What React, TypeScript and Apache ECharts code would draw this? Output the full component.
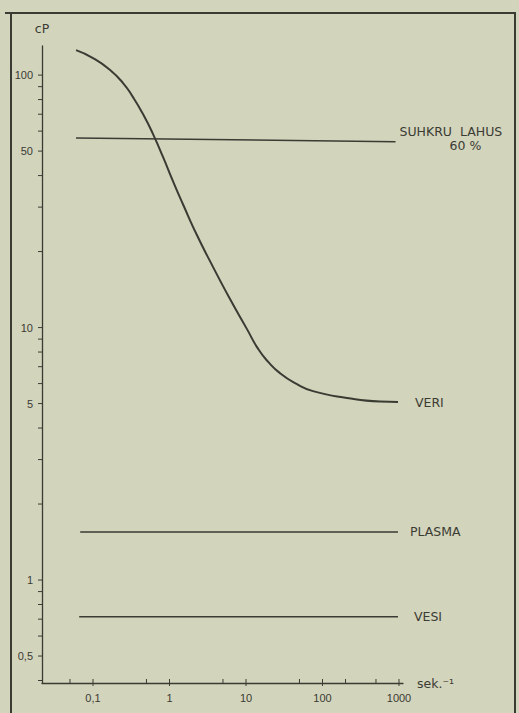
import React, { useEffect, useRef } from "react";
import * as echarts from "echarts";

// ---- data ----
const sugarLine: [number, number][] = [
  [0.06, 56.3],
  [900, 54.5],
];
const bloodCurve: [number, number][] = [
  [0.06, 125.6],
  [0.1, 116.8],
  [0.167, 104.7],
  [0.247, 93.0],
  [0.333, 81.8],
  [0.45, 70.1],
  [0.609, 58.4],
  [0.822, 47.4],
  [1.11, 38.0],
  [1.5, 30.8],
  [2.29, 23.2],
  [3.7, 17.4],
  [6.18, 12.97],
  [10.3, 9.86],
  [14.35, 8.25],
  [19.4, 7.33],
  [27.8, 6.6],
  [46.4, 5.97],
  [75.1, 5.6],
  [209, 5.26],
  [564, 5.09],
  [970, 5.07],
];
const plasmaLine: [number, number][] = [
  [0.068, 1.55],
  [970, 1.55],
];
const waterLine: [number, number][] = [
  [0.066, 0.716],
  [970, 0.716],
];

const xMajorTicks = [0.1, 1, 10, 100, 1000];
const xMinorTicks = [0.05, 0.5, 5, 50, 200, 500];
const yLabelTicks = [0.5, 1, 5, 10, 50, 100];
const yAllTicks = [
  0.4, 0.5, 0.6, 0.7, 0.8, 0.9, 1, 2, 3, 4, 5, 6, 7, 8, 9, 10, 20, 30, 40, 50,
  60, 70, 80, 90, 100,
];

const X_MIN = 0.02154;
const X_MAX = 1128;
const Y_MIN = 0.391;
const Y_MAX = 130.4;

const BG = "#d3d4bc";
const INK = "#3a3b33";
const LABEL_FONT = "DejaVu Sans";
const TICK_FONT = "Liberation Sans";

const fmt = (v: number) => String(v).replace(".", ",");

export default function App() {
  const ref = useRef<HTMLDivElement>(null);

  useEffect(() => {
    if (!ref.current) return;
    const chart = echarts.init(ref.current, null, { renderer: "svg" });

    const endLabel = (text: string, distance: number) => ({
      show: true,
      formatter: text,
      distance,
      color: INK,
      fontFamily: LABEL_FONT,
      fontSize: 12.5,
    });

    // tick marks drawn through the axes' own scales
    const tickSeries = (
      data: number[][],
      kind: "y" | "xMinor" | "xMajor"
    ) => ({
      type: "custom",
      silent: true,
      clip: false,
      z: 5,
      data,
      renderItem: (_params: any, api: any) => {
        const p = api.coord([api.value(0), api.value(1)]);
        let shape;
        if (kind === "y") {
          shape = { x1: p[0] - 4, y1: p[1], x2: p[0], y2: p[1] };
        } else if (kind === "xMinor") {
          shape = { x1: p[0], y1: p[1], x2: p[0], y2: p[1] - 4 };
        } else {
          shape = { x1: p[0], y1: p[1] + 3, x2: p[0], y2: p[1] - 4 };
        }
        return {
          type: "line",
          shape,
          style: { stroke: INK, lineWidth: 1 },
        };
      },
    });

    const option: any = {
      animation: false,
      backgroundColor: BG,
      grid: { left: 42, top: 46, right: 116, bottom: 30 },
      xAxis: {
        type: "log",
        min: X_MIN,
        max: X_MAX,
        name: "sek.⁻¹",
        nameLocation: "end",
        nameGap: 14,
        nameTextStyle: { color: INK, fontFamily: LABEL_FONT, fontSize: 12.5 },
        axisLine: { show: true, lineStyle: { color: INK, width: 1.3 } },
        axisTick: { show: false },
        axisLabel: {
          show: true,
          customValues: xMajorTicks,
          formatter: fmt,
          margin: 9,
          color: INK,
          fontFamily: TICK_FONT,
          fontSize: 11,
        },
        splitLine: { show: false },
      },
      yAxis: {
        type: "log",
        min: Y_MIN,
        max: Y_MAX,
        name: "cP",
        nameLocation: "end",
        nameGap: 11,
        nameTextStyle: { color: INK, fontFamily: LABEL_FONT, fontSize: 12.5 },
        axisLine: { show: true, lineStyle: { color: INK, width: 1.3 } },
        axisTick: { show: false },
        axisLabel: {
          show: true,
          customValues: yLabelTicks,
          formatter: fmt,
          margin: 9,
          color: INK,
          fontFamily: TICK_FONT,
          fontSize: 11,
        },
        splitLine: { show: false },
      },
      series: [
        {
          name: "SUHKRU LAHUS 60 %",
          type: "line",
          data: sugarLine,
          showSymbol: false,
          lineStyle: { color: INK, width: 1.5 },
          endLabel: {
            show: true,
            formatter: "{a|SUHKRU  LAHUS}\n{b|60 %}",
            distance: 4,
            offset: [0, -3],
            color: INK,
            fontFamily: LABEL_FONT,
            fontSize: 12.5,
            lineHeight: 14,
            rich: {
              a: { color: INK, fontFamily: LABEL_FONT, fontSize: 12.5, lineHeight: 14 },
              b: {
                color: INK,
                fontFamily: LABEL_FONT,
                fontSize: 12.5,
                lineHeight: 14,
                padding: [0, 0, 0, 50],
              },
            },
          },
        },
        {
          name: "VERI",
          type: "line",
          data: bloodCurve,
          smooth: 0.55,
          showSymbol: false,
          lineStyle: { color: INK, width: 2 },
          endLabel: endLabel("VERI", 17),
        },
        {
          name: "PLASMA",
          type: "line",
          data: plasmaLine,
          showSymbol: false,
          lineStyle: { color: INK, width: 1.5 },
          endLabel: endLabel("PLASMA", 12),
        },
        {
          name: "VESI",
          type: "line",
          data: waterLine,
          showSymbol: false,
          lineStyle: { color: INK, width: 1.5 },
          endLabel: endLabel("VESI", 16),
        },
        tickSeries(yAllTicks.map((v) => [X_MIN, v]), "y"),
        tickSeries(xMinorTicks.map((v) => [v, Y_MIN]), "xMinor"),
        tickSeries(xMajorTicks.map((v) => [v, Y_MIN]), "xMajor"),
      ],
      graphic: [
        {
          type: "polyline",
          silent: true,
          shape: { points: [[5, 13], [516, 13]] },
          style: { stroke: INK, lineWidth: 2, fill: "none" },
        },
        {
          type: "polyline",
          silent: true,
          shape: { points: [[11, 13], [11, 713]] },
          style: { stroke: INK, lineWidth: 2, fill: "none" },
        },
        {
          type: "polyline",
          silent: true,
          shape: { points: [[515, 12], [515, 713]] },
          style: { stroke: INK, lineWidth: 2, fill: "none" },
        },
      ],
    };

    chart.setOption(option);
    return () => chart.dispose();
  }, []);

  return (
    <div
      ref={ref}
      style={{ position: "absolute", left: 0, top: 0, width: 519, height: 713 }}
    />
  );
}
